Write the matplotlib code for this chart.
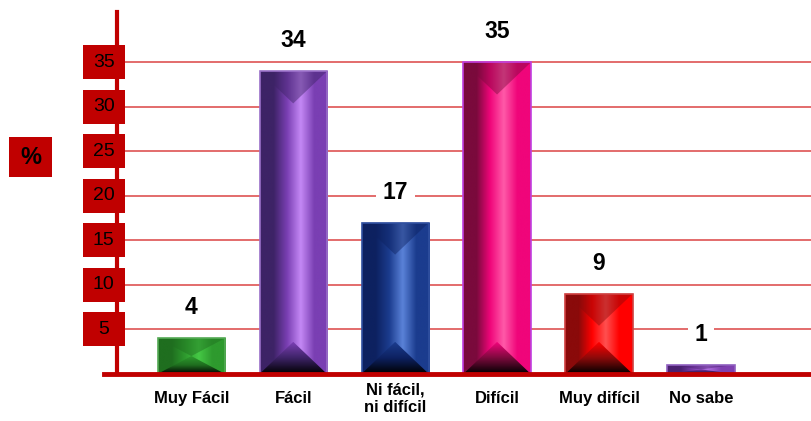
import matplotlib
matplotlib.use('Agg')
import matplotlib.pyplot as plt
import matplotlib.transforms as mtransforms
from matplotlib.colors import LinearSegmentedColormap
from matplotlib.patches import Rectangle, Polygon
import numpy as np

plt.rcParams['font.family'] = ['Liberation Sans', 'DejaVu Sans']

# data
categories = ['Muy Fácil', 'Fácil', 'Ni fácil,\nni difícil', 'Difícil', 'Muy difícil', 'No sabe']
values = [4, 34, 17, 35, 9, 1]
yticks = [5, 10, 15, 20, 25, 30, 35]

# colours per bar: dark side, light stripe, main
bar_colors = [
    ('#1f6e1f', '#45c845', '#2e9a2e'),
    ('#3d2366', '#c488f5', '#7a3fb3'),
    ('#0d2160', '#5a82d8', '#1b3c8e'),
    ('#7a0a3c', '#ff5aa8', '#f0057a'),
    ('#8a0a0a', '#ff5050', '#ff0000'),
    ('#4a2070', '#b070e0', '#7f40b0'),
]
edge_colors = ['#55aa55', '#9a70c8', '#3050a0', '#c040e0', '#d04040', '#9060c0']

RED = '#c00000'
GRID = '#e06060'

fig = plt.figure(figsize=(8.12, 4.21), dpi=100)
ax = fig.add_axes([0.144, 0.112, 0.856, 0.86])
ax.set_xlim(-0.73, 6.09)
ax.set_ylim(0, 40.7)

for y in yticks:
    ax.axhline(y, color=GRID, lw=1.3, zorder=1)

w = 0.66
px_per_unit = 0.86 * 421 / 40.7
bevel = 32 / px_per_unit  # bevel height in data units

for i, (v, cols) in enumerate(zip(values, bar_colors)):
    x0, x1 = i - w / 2, i + w / 2
    cmap = LinearSegmentedColormap.from_list('b%d' % i,
        [cols[0], cols[0], cols[2], cols[1], cols[2], cols[2]])
    grad = np.linspace(0, 1, 256).reshape(1, -1)
    rect = Rectangle((x0, 0), w, v, facecolor='none', edgecolor=edge_colors[i],
                     lw=1.2, zorder=4)
    ax.add_patch(rect)
    im = ax.imshow(grad, extent=[x0, x1, 0, v], aspect='auto', cmap=cmap,
                   zorder=3, interpolation='bilinear')
    im.set_clip_path(rect)
    h = min(bevel, v / 2)
    # top bevel (darker)
    top = Polygon([(x0, v), (x1, v), (i, v - h)], closed=True,
                  facecolor=cols[0], alpha=0.45, edgecolor='none', zorder=3.5)
    ax.add_patch(top)
    # bottom bevel fading to black
    bot = Polygon([(x0, 0), (x1, 0), (i, h)], closed=True,
                  facecolor='none', edgecolor='none', zorder=3.6)
    ax.add_patch(bot)
    bcmap = LinearSegmentedColormap.from_list('k%d' % i, ['#000000', cols[0], cols[2]])
    vg = np.linspace(0, 1, 64).reshape(-1, 1)
    im2 = ax.imshow(vg, extent=[x0, x1, 0, h], aspect='auto', cmap=bcmap,
                    origin='lower', zorder=3.6, interpolation='bilinear')
    im2.set_clip_path(bot)
    ax.annotate(str(v), (i, v), xytext=(0, 22), textcoords='offset points',
                ha='center', va='center', fontsize=16.5, fontweight='bold',
                bbox=dict(boxstyle='square,pad=0.3', fc='white', ec='none'),
                zorder=5)

# axis lines
ax.plot([0, 0], [0, 1], transform=ax.transAxes, color=RED, lw=3,
        clip_on=False, zorder=6)
ax.plot([-0.018, 1], [0, 0], transform=ax.transAxes, color=RED, lw=3.5,
        clip_on=False, zorder=6)

# tick label boxes
trans = mtransforms.blended_transform_factory(ax.transAxes, ax.transData)
box_h = 34 / px_per_unit
for y in yticks:
    ax.add_patch(Rectangle((-0.049, y - box_h / 2), 0.06, box_h, transform=trans,
                           facecolor=RED, edgecolor='none', clip_on=False, zorder=7))
    ax.text(-0.019, y, str(y), transform=trans, ha='center', va='center',
            fontsize=14, color='black', zorder=8)

# % box
fig.patches.append(Rectangle((9 / 812, 1 - 177 / 421), 43 / 812, 40 / 421,
                             transform=fig.transFigure, facecolor=RED,
                             edgecolor='none', zorder=1))
fig.text(30.5 / 812, 1 - 157 / 421, '%', ha='center', va='center',
         fontsize=17, fontweight='bold', color='black')

# category labels
for i, c in enumerate(categories):
    ax.annotate(c, (i, 0), xytext=(0, -18), textcoords='offset points',
                ha='center', va='center', fontsize=12, fontweight='bold',
                linespacing=1.25, annotation_clip=False)

ax.set_xticks([])
ax.set_yticks([])
for s in ax.spines.values():
    s.set_visible(False)

fig.savefig('out.png', dpi=100)
